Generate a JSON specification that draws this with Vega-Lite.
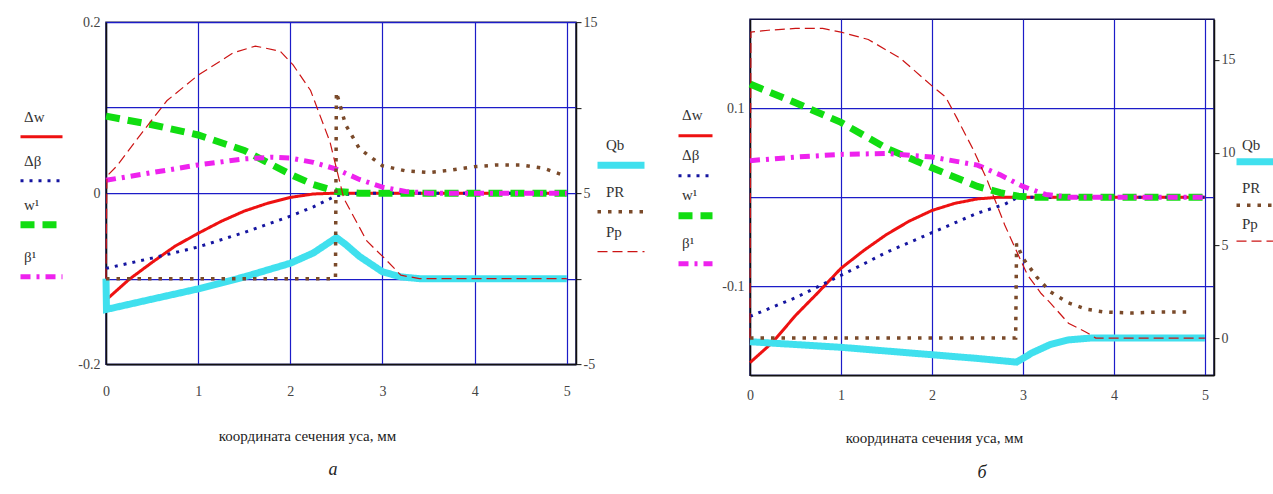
{
  "$schema": "https://vega.github.io/schema/vega-lite/v6.json",
  "background": "white",
  "padding": {"left": 16, "top": 14, "right": 0, "bottom": 0},
  "spacing": 14,
  "center": true,
  "datasets": {
    "aL": [
      {"s": "Δw", "x": 0, "v": -0.125}, {"s": "Δw", "x": 0.25, "v": -0.101}, {"s": "Δw", "x": 0.5, "v": -0.081}, {"s": "Δw", "x": 0.75, "v": -0.062}, {"s": "Δw", "x": 1, "v": -0.047}, {"s": "Δw", "x": 1.25, "v": -0.033}, {"s": "Δw", "x": 1.5, "v": -0.021}, {"s": "Δw", "x": 1.75, "v": -0.012}, {"s": "Δw", "x": 2, "v": -0.005}, {"s": "Δw", "x": 2.25, "v": -0.001}, {"s": "Δw", "x": 2.5, "v": 0}, {"s": "Δw", "x": 3, "v": 0}, {"s": "Δw", "x": 3.5, "v": 0}, {"s": "Δw", "x": 4, "v": 0}, {"s": "Δw", "x": 4.5, "v": 0}, {"s": "Δw", "x": 5, "v": 0},
      {"s": "Δβ", "x": 0, "v": -0.088}, {"s": "Δβ", "x": 0.5, "v": -0.076}, {"s": "Δβ", "x": 1, "v": -0.063}, {"s": "Δβ", "x": 1.5, "v": -0.046}, {"s": "Δβ", "x": 2, "v": -0.027}, {"s": "Δβ", "x": 2.25, "v": -0.016}, {"s": "Δβ", "x": 2.5, "v": -0.003}, {"s": "Δβ", "x": 2.75, "v": 0}, {"s": "Δβ", "x": 3, "v": 0}, {"s": "Δβ", "x": 4, "v": 0}, {"s": "Δβ", "x": 5, "v": 0},
      {"s": "w¹", "x": 0, "v": 0.09}, {"s": "w¹", "x": 0.5, "v": 0.08}, {"s": "w¹", "x": 1, "v": 0.068}, {"s": "w¹", "x": 1.5, "v": 0.05}, {"s": "w¹", "x": 1.75, "v": 0.036}, {"s": "w¹", "x": 2, "v": 0.022}, {"s": "w¹", "x": 2.25, "v": 0.01}, {"s": "w¹", "x": 2.5, "v": 0.002}, {"s": "w¹", "x": 2.75, "v": 0}, {"s": "w¹", "x": 3, "v": 0}, {"s": "w¹", "x": 4, "v": 0}, {"s": "w¹", "x": 5, "v": 0},
      {"s": "β¹", "x": 0, "v": 0.015}, {"s": "β¹", "x": 0.5, "v": 0.024}, {"s": "β¹", "x": 1, "v": 0.033}, {"s": "β¹", "x": 1.5, "v": 0.04}, {"s": "β¹", "x": 1.8, "v": 0.042}, {"s": "β¹", "x": 2, "v": 0.041}, {"s": "β¹", "x": 2.25, "v": 0.036}, {"s": "β¹", "x": 2.5, "v": 0.028}, {"s": "β¹", "x": 2.75, "v": 0.016}, {"s": "β¹", "x": 3, "v": 0.007}, {"s": "β¹", "x": 3.25, "v": 0.002}, {"s": "β¹", "x": 3.5, "v": 0}, {"s": "β¹", "x": 4, "v": 0}, {"s": "β¹", "x": 5, "v": 0}
    ],
    "aR": [
      {"s": "Qb", "x": 0, "v": 0}, {"s": "Qb", "x": 0.005, "v": -1.8}, {"s": "Qb", "x": 0.5, "v": -1.2}, {"s": "Qb", "x": 1, "v": -0.6}, {"s": "Qb", "x": 1.5, "v": 0.1}, {"s": "Qb", "x": 2, "v": 0.9}, {"s": "Qb", "x": 2.25, "v": 1.5}, {"s": "Qb", "x": 2.5, "v": 2.4}, {"s": "Qb", "x": 2.6, "v": 2.0}, {"s": "Qb", "x": 2.75, "v": 1.3}, {"s": "Qb", "x": 3, "v": 0.4}, {"s": "Qb", "x": 3.2, "v": 0.1}, {"s": "Qb", "x": 3.4, "v": 0}, {"s": "Qb", "x": 4, "v": 0}, {"s": "Qb", "x": 5, "v": 0},
      {"s": "PR", "x": 0, "v": 0}, {"s": "PR", "x": 1, "v": 0}, {"s": "PR", "x": 2, "v": 0}, {"s": "PR", "x": 2.49, "v": 0}, {"s": "PR", "x": 2.5, "v": 10.9}, {"s": "PR", "x": 2.6, "v": 9.0}, {"s": "PR", "x": 2.75, "v": 7.6}, {"s": "PR", "x": 3, "v": 6.6}, {"s": "PR", "x": 3.25, "v": 6.3}, {"s": "PR", "x": 3.5, "v": 6.2}, {"s": "PR", "x": 3.75, "v": 6.35}, {"s": "PR", "x": 4, "v": 6.55}, {"s": "PR", "x": 4.25, "v": 6.65}, {"s": "PR", "x": 4.5, "v": 6.65}, {"s": "PR", "x": 4.75, "v": 6.45}, {"s": "PR", "x": 4.96, "v": 6.05},
      {"s": "Pp", "x": 0, "v": 0}, {"s": "Pp", "x": 0.01, "v": 6.0}, {"s": "Pp", "x": 0.12, "v": 6.6}, {"s": "Pp", "x": 0.4, "v": 8.6}, {"s": "Pp", "x": 0.66, "v": 10.4}, {"s": "Pp", "x": 1, "v": 11.9}, {"s": "Pp", "x": 1.38, "v": 13.2}, {"s": "Pp", "x": 1.62, "v": 13.6}, {"s": "Pp", "x": 1.89, "v": 13.3}, {"s": "Pp", "x": 2.03, "v": 12.5}, {"s": "Pp", "x": 2.22, "v": 11.0}, {"s": "Pp", "x": 2.43, "v": 8.0}, {"s": "Pp", "x": 2.58, "v": 4.7}, {"s": "Pp", "x": 2.83, "v": 2.2}, {"s": "Pp", "x": 3.02, "v": 1.2}, {"s": "Pp", "x": 3.2, "v": 0.2}, {"s": "Pp", "x": 3.4, "v": 0}, {"s": "Pp", "x": 4, "v": 0}, {"s": "Pp", "x": 5, "v": 0}
    ],
    "bL": [
      {"s": "Δw", "x": 0, "v": -0.186}, {"s": "Δw", "x": 0.25, "v": -0.163}, {"s": "Δw", "x": 0.5, "v": -0.133}, {"s": "Δw", "x": 0.75, "v": -0.107}, {"s": "Δw", "x": 1, "v": -0.08}, {"s": "Δw", "x": 1.25, "v": -0.06}, {"s": "Δw", "x": 1.5, "v": -0.042}, {"s": "Δw", "x": 1.75, "v": -0.027}, {"s": "Δw", "x": 2, "v": -0.015}, {"s": "Δw", "x": 2.25, "v": -0.007}, {"s": "Δw", "x": 2.5, "v": -0.002}, {"s": "Δw", "x": 2.75, "v": 0}, {"s": "Δw", "x": 3, "v": 0}, {"s": "Δw", "x": 4, "v": 0}, {"s": "Δw", "x": 5, "v": 0},
      {"s": "Δβ", "x": 0, "v": -0.134}, {"s": "Δβ", "x": 0.5, "v": -0.113}, {"s": "Δβ", "x": 1, "v": -0.088}, {"s": "Δβ", "x": 1.5, "v": -0.062}, {"s": "Δβ", "x": 2, "v": -0.04}, {"s": "Δβ", "x": 2.5, "v": -0.018}, {"s": "Δβ", "x": 2.8, "v": -0.008}, {"s": "Δβ", "x": 2.95, "v": 0}, {"s": "Δβ", "x": 3.5, "v": 0}, {"s": "Δβ", "x": 4, "v": 0}, {"s": "Δβ", "x": 5, "v": 0},
      {"s": "w¹", "x": 0, "v": 0.127}, {"s": "w¹", "x": 0.5, "v": 0.106}, {"s": "w¹", "x": 1, "v": 0.084}, {"s": "w¹", "x": 1.5, "v": 0.055}, {"s": "w¹", "x": 2, "v": 0.033}, {"s": "w¹", "x": 2.5, "v": 0.012}, {"s": "w¹", "x": 2.75, "v": 0.005}, {"s": "w¹", "x": 2.95, "v": 0.001}, {"s": "w¹", "x": 3.1, "v": 0}, {"s": "w¹", "x": 4, "v": 0}, {"s": "w¹", "x": 5, "v": 0},
      {"s": "β¹", "x": 0, "v": 0.041}, {"s": "β¹", "x": 0.5, "v": 0.045}, {"s": "β¹", "x": 1, "v": 0.048}, {"s": "β¹", "x": 1.5, "v": 0.049}, {"s": "β¹", "x": 2, "v": 0.045}, {"s": "β¹", "x": 2.5, "v": 0.036}, {"s": "β¹", "x": 2.75, "v": 0.025}, {"s": "β¹", "x": 3, "v": 0.012}, {"s": "β¹", "x": 3.25, "v": 0.003}, {"s": "β¹", "x": 3.5, "v": 0}, {"s": "β¹", "x": 4, "v": 0}, {"s": "β¹", "x": 5, "v": 0}
    ],
    "bR": [
      {"s": "Qb", "x": 0, "v": -0.2}, {"s": "Qb", "x": 1, "v": -0.5}, {"s": "Qb", "x": 2, "v": -0.9}, {"s": "Qb", "x": 2.5, "v": -1.1}, {"s": "Qb", "x": 2.93, "v": -1.3}, {"s": "Qb", "x": 3.1, "v": -0.8}, {"s": "Qb", "x": 3.3, "v": -0.35}, {"s": "Qb", "x": 3.5, "v": -0.1}, {"s": "Qb", "x": 3.75, "v": 0}, {"s": "Qb", "x": 4, "v": 0}, {"s": "Qb", "x": 5, "v": 0},
      {"s": "PR", "x": 0, "v": 0}, {"s": "PR", "x": 1, "v": 0}, {"s": "PR", "x": 2, "v": 0}, {"s": "PR", "x": 2.92, "v": 0}, {"s": "PR", "x": 2.93, "v": 5.1}, {"s": "PR", "x": 3.0, "v": 4.3}, {"s": "PR", "x": 3.15, "v": 3.3}, {"s": "PR", "x": 3.3, "v": 2.5}, {"s": "PR", "x": 3.5, "v": 1.9}, {"s": "PR", "x": 3.7, "v": 1.55}, {"s": "PR", "x": 3.9, "v": 1.4}, {"s": "PR", "x": 4.2, "v": 1.35}, {"s": "PR", "x": 4.5, "v": 1.4}, {"s": "PR", "x": 4.85, "v": 1.4},
      {"s": "Pp", "x": 0, "v": 0}, {"s": "Pp", "x": 0.01, "v": 16.5}, {"s": "Pp", "x": 0.2, "v": 16.6}, {"s": "Pp", "x": 0.5, "v": 16.7}, {"s": "Pp", "x": 0.8, "v": 16.7}, {"s": "Pp", "x": 1, "v": 16.5}, {"s": "Pp", "x": 1.3, "v": 16.1}, {"s": "Pp", "x": 1.65, "v": 15.1}, {"s": "Pp", "x": 2, "v": 13.6}, {"s": "Pp", "x": 2.15, "v": 13.0}, {"s": "Pp", "x": 2.27, "v": 11.9}, {"s": "Pp", "x": 2.45, "v": 10.2}, {"s": "Pp", "x": 2.6, "v": 8.6}, {"s": "Pp", "x": 2.8, "v": 6.1}, {"s": "Pp", "x": 2.9, "v": 5.0}, {"s": "Pp", "x": 3.05, "v": 3.4}, {"s": "Pp", "x": 3.2, "v": 2.4}, {"s": "Pp", "x": 3.3, "v": 1.9}, {"s": "Pp", "x": 3.5, "v": 0.8}, {"s": "Pp", "x": 3.7, "v": 0.3}, {"s": "Pp", "x": 3.8, "v": 0}, {"s": "Pp", "x": 4, "v": 0}, {"s": "Pp", "x": 5, "v": 0}
    ]
  },
  "hconcat": [
    {
      "width": 470,
      "height": 342,
      "title": {"text": "а", "orient": "bottom", "dx": -8, "offset": 18},
      "encoding": {
        "x": {"field": "x", "type": "quantitative", "scale": {"domain": [0, 5.1], "nice": false, "zero": false},
          "axis": {"title": "координата сечения уса, мм", "values": [0, 1, 2, 3, 4, 5], "format": "d", "grid": true, "ticks": false, "labelPadding": 20, "titlePadding": 30, "titleX": 201, "titleAlign": "center"}}
      },
      "layer": [
        {
          "data": {"name": "aL"},
          "mark": {"type": "line", "strokeCap": "butt"},
          "encoding": {
            "y": {"field": "v", "type": "quantitative", "scale": {"domain": [-0.2, 0.2], "nice": false, "zero": false},
              "axis": {"title": null, "values": [-0.2, -0.1, 0, 0.1, 0.2], "labelExpr": "datum.value == 0 ? '0' : datum.value == 0.2 ? '0.2' : datum.value == -0.2 ? '-0.2' : ''", "ticks": false, "labelPadding": 6, "grid": true}},
            "color": {"field": "s", "type": "nominal", "scale": {"domain": ["Δw", "Δβ", "w¹", "β¹"], "range": ["#ee1111", "#1515a0", "#11dd11", "#ee22ee"]},
              "legend": {"orient": "none", "legendX": -89, "legendY": 92, "symbolSize": 1764, "labelOffset": -42, "labelBaseline": "bottom", "rowPadding": 10, "encoding": {"labels": {"dy": {"value": -12}}}}},
            "strokeDash": {"field": "s", "type": "nominal", "scale": {"domain": ["Δw", "Δβ", "w¹", "β¹"], "range": [[1, 0], [3, 6], [14, 8], [10, 6, 3, 6]]},
              "legend": {"orient": "none", "legendX": -89, "legendY": 92, "symbolSize": 1764, "labelOffset": -42, "labelBaseline": "bottom", "rowPadding": 10, "encoding": {"labels": {"dy": {"value": -12}}}}},
            "strokeWidth": {"field": "s", "type": "nominal", "scale": {"type": "ordinal", "domain": ["Δw", "Δβ", "w¹", "β¹"], "range": [3, 3, 7, 5]},
              "legend": {"orient": "none", "legendX": -89, "legendY": 92, "symbolSize": 1764, "labelOffset": -42, "labelBaseline": "bottom", "rowPadding": 10, "encoding": {"labels": {"dy": {"value": -12}}}}}
          }
        },
        {
          "data": {"name": "aR"},
          "mark": {"type": "line", "strokeCap": "butt"},
          "encoding": {
            "y": {"field": "v", "type": "quantitative", "scale": {"domain": [-5, 15], "nice": false, "zero": false},
              "axis": {"orient": "right", "title": null, "values": [-5, 0, 5, 10, 15], "labelExpr": "datum.value == 15 ? '15' : datum.value == 5 ? '5' : datum.value == -5 ? '-5' : ''", "grid": false, "tickSize": 5, "labelPadding": 2}},
            "color": {"field": "s", "type": "nominal", "scale": {"domain": ["Qb", "PR", "Pp"], "range": ["#40e0ee", "#7a4a2a", "#cc1414"]},
              "legend": {"orient": "none", "legendX": 488, "legendY": 116, "symbolSize": 2209, "labelOffset": -42, "labelBaseline": "bottom", "rowPadding": 5, "encoding": {"labels": {"dy": {"value": -12}}}}},
            "strokeDash": {"field": "s", "type": "nominal", "scale": {"domain": ["Qb", "PR", "Pp"], "range": [[1, 0], [3.5, 7], [10, 5]]},
              "legend": {"orient": "none", "legendX": 488, "legendY": 116, "symbolSize": 2209, "labelOffset": -42, "labelBaseline": "bottom", "rowPadding": 5, "encoding": {"labels": {"dy": {"value": -12}}}}},
            "strokeWidth": {"field": "s", "type": "nominal", "scale": {"type": "ordinal", "domain": ["Qb", "PR", "Pp"], "range": [7, 3.5, 1.2]},
              "legend": {"orient": "none", "legendX": 488, "legendY": 116, "symbolSize": 2209, "labelOffset": -42, "labelBaseline": "bottom", "rowPadding": 5, "encoding": {"labels": {"dy": {"value": -12}}}}}
          }
        }
      ],
      "resolve": {"scale": {"y": "independent", "color": "independent", "strokeDash": "independent", "strokeWidth": "independent"}}
    },
    {
      "width": 464,
      "height": 356,
      "title": {"text": "б", "orient": "bottom", "offset": 19},
      "encoding": {
        "x": {"field": "x", "type": "quantitative", "scale": {"domain": [0, 5.1], "nice": false, "zero": false},
          "axis": {"title": "координата сечения уса, мм", "values": [0, 1, 2, 3, 4, 5], "format": "d", "grid": true, "ticks": false, "labelPadding": 13, "titlePadding": 28, "titleX": 184, "titleAlign": "center"}}
      },
      "layer": [
        {
          "data": {"name": "bL"},
          "mark": {"type": "line", "strokeCap": "butt"},
          "encoding": {
            "y": {"field": "v", "type": "quantitative", "scale": {"domain": [-0.2, 0.2], "nice": false, "zero": false},
              "axis": {"title": null, "values": [-0.1, 0, 0.1], "labelExpr": "datum.value == 0.1 ? '0.1' : datum.value == -0.1 ? '-0.1' : ''", "ticks": false, "labelPadding": 6, "grid": true}},
            "color": {"field": "s", "type": "nominal", "scale": {"domain": ["Δw", "Δβ", "w¹", "β¹"], "range": ["#ee1111", "#1515a0", "#11dd11", "#ee22ee"]},
              "legend": {"orient": "none", "legendX": -75, "legendY": 98, "symbolSize": 1156, "labelOffset": -34, "labelBaseline": "bottom", "rowPadding": 5, "encoding": {"labels": {"dy": {"value": -13}}}}},
            "strokeDash": {"field": "s", "type": "nominal", "scale": {"domain": ["Δw", "Δβ", "w¹", "β¹"], "range": [[1, 0], [3, 6], [14, 8], [10, 6, 3, 6]]},
              "legend": {"orient": "none", "legendX": -75, "legendY": 98, "symbolSize": 1156, "labelOffset": -34, "labelBaseline": "bottom", "rowPadding": 5, "encoding": {"labels": {"dy": {"value": -13}}}}},
            "strokeWidth": {"field": "s", "type": "nominal", "scale": {"type": "ordinal", "domain": ["Δw", "Δβ", "w¹", "β¹"], "range": [3, 3, 7, 5]},
              "legend": {"orient": "none", "legendX": -75, "legendY": 98, "symbolSize": 1156, "labelOffset": -34, "labelBaseline": "bottom", "rowPadding": 5, "encoding": {"labels": {"dy": {"value": -13}}}}}
          }
        },
        {
          "data": {"name": "bR"},
          "mark": {"type": "line", "strokeCap": "butt"},
          "encoding": {
            "y": {"field": "v", "type": "quantitative", "scale": {"domain": [-2, 17.2], "nice": false, "zero": false},
              "axis": {"orient": "right", "title": null, "values": [0, 5, 10, 15], "grid": false, "tickSize": 5, "labelPadding": 2}},
            "color": {"field": "s", "type": "nominal", "scale": {"domain": ["Qb", "PR", "Pp"], "range": ["#40e0ee", "#7a4a2a", "#cc1414"]},
              "legend": {"orient": "none", "legendX": 483, "legendY": 119, "symbolSize": 1600, "labelOffset": -38, "labelBaseline": "bottom", "rowPadding": 5, "encoding": {"labels": {"dy": {"value": -9}}}}},
            "strokeDash": {"field": "s", "type": "nominal", "scale": {"domain": ["Qb", "PR", "Pp"], "range": [[1, 0], [3.5, 7], [10, 5]]},
              "legend": {"orient": "none", "legendX": 483, "legendY": 119, "symbolSize": 1600, "labelOffset": -38, "labelBaseline": "bottom", "rowPadding": 5, "encoding": {"labels": {"dy": {"value": -9}}}}},
            "strokeWidth": {"field": "s", "type": "nominal", "scale": {"type": "ordinal", "domain": ["Qb", "PR", "Pp"], "range": [7, 3.5, 1.2]},
              "legend": {"orient": "none", "legendX": 483, "legendY": 119, "symbolSize": 1600, "labelOffset": -38, "labelBaseline": "bottom", "rowPadding": 5, "encoding": {"labels": {"dy": {"value": -9}}}}}
          }
        }
      ],
      "resolve": {"scale": {"y": "independent", "color": "independent", "strokeDash": "independent", "strokeWidth": "independent"}}
    }
  ],
  "config": {
    "view": {"stroke": "#10104a", "strokeWidth": 1.5},
    "axis": {"labelFont": "Liberation Serif", "labelFontSize": 14, "labelColor": "#444444", "titleFont": "Liberation Serif", "titleFontSize": 15, "titleFontWeight": "normal", "titleColor": "#222222", "gridColor": "#1c1cc8", "gridOpacity": 1, "gridWidth": 1.2, "domainColor": "#111111", "domainWidth": 1.5, "tickColor": "#111111", "labelFlush": false, "labelOverlap": false},
    "legend": {"labelFont": "Liberation Serif", "labelFontSize": 15, "labelColor": "#333333", "symbolType": "stroke", "title": null, "padding": 0, "labelLimit": 100},
    "title": {"font": "Liberation Serif", "fontStyle": "italic", "fontSize": 18, "fontWeight": "normal", "color": "#222222"}
  }
}
